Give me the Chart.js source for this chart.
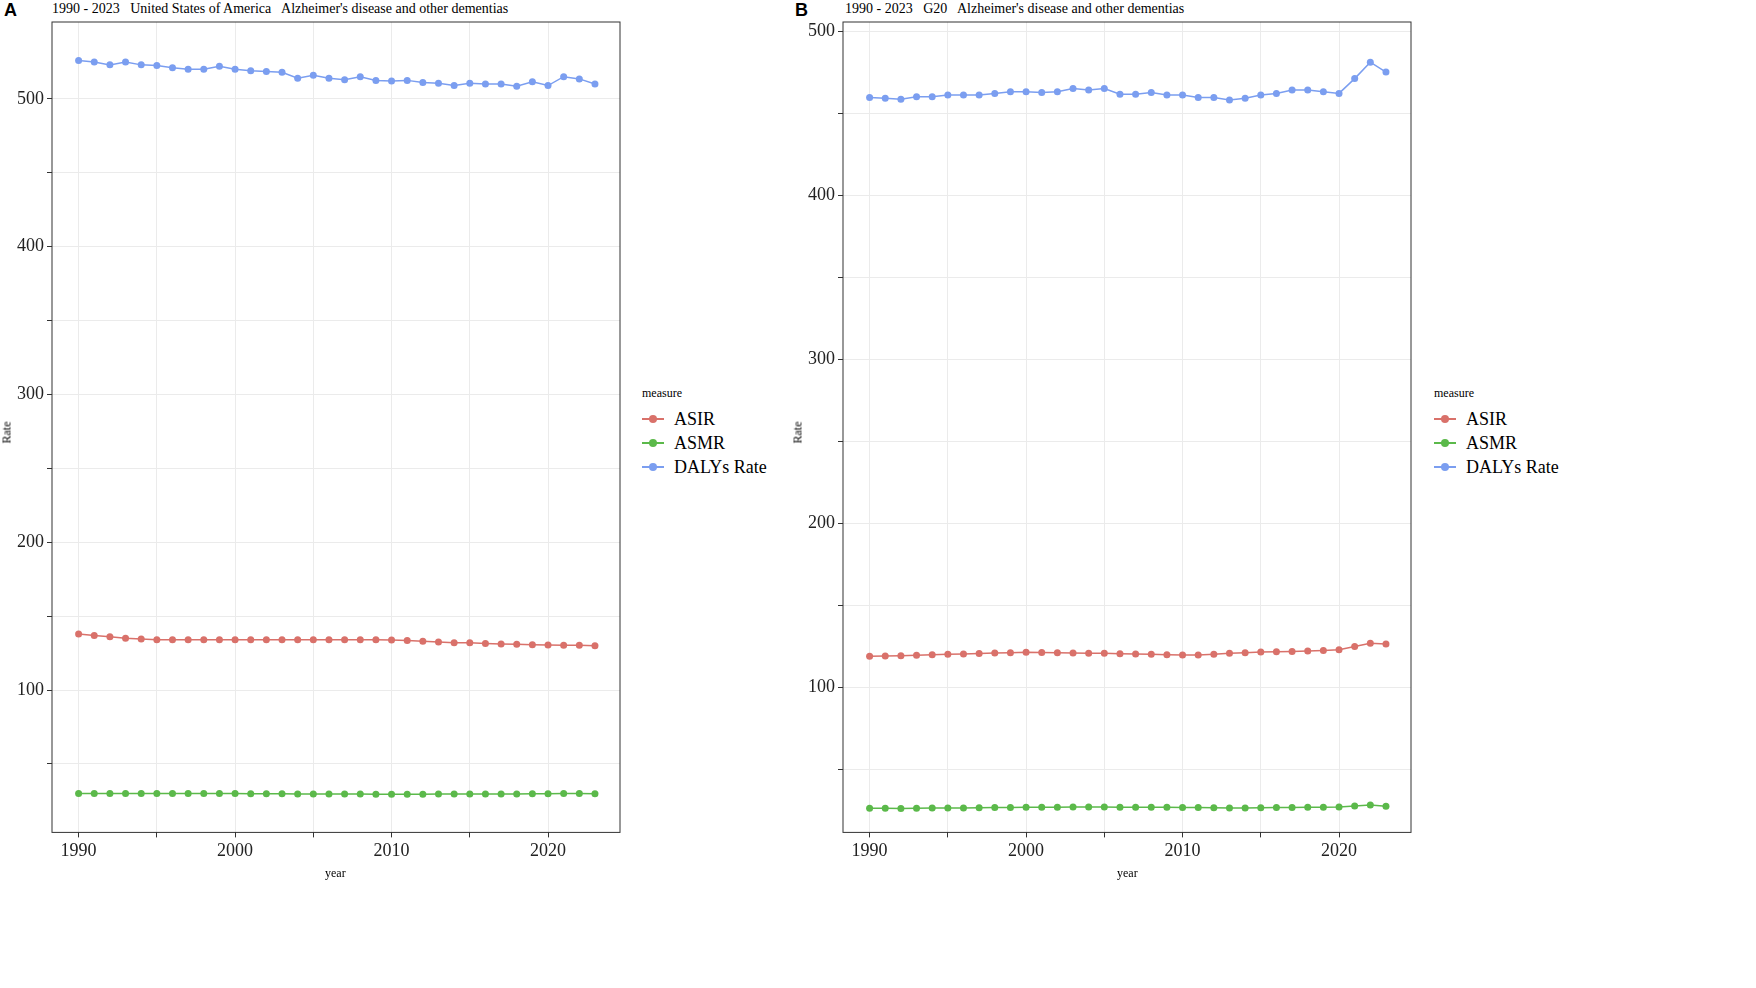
<!DOCTYPE html>
<html>
<head>
<meta charset="utf-8">
<script src="https://cdn.jsdelivr.net/npm/chart.js@4"></script>
<style>
body { margin: 0; background: #fff; font-family: "Liberation Serif", serif; }
.panel { position: absolute; top: 0; width: 640px; height: 885px; }
.tag { position: absolute; top: 0; font: bold 18px "Liberation Sans", sans-serif; }
.ttl { position: absolute; top: 1px; font-size: 14px; white-space: pre; }
.leg { position: absolute; font-size: 18px; }
.leg .h { font-size: 12px; margin-bottom: 6px; }
.leg div.r { height: 24px; display: flex; align-items: center; }
.leg .sw { position: relative; width: 22px; height: 2px; margin-right: 10px; }
.leg .sw i { position: absolute; left: 7px; top: -3px; width: 8px; height: 8px; border-radius: 50%; background: inherit; }
.ylab { position: absolute; font-size: 12px; transform: rotate(-90deg); }
.xlab { position: absolute; font-size: 12px; }
</style>
</head>
<body>
<div class="tag" style="left:4px">A</div>
<div class="ttl" style="left:52px">1990 - 2023   United States of America   Alzheimer's disease and other dementias</div>
<div class="panel" style="left:0"><canvas id="chartA"></canvas></div>
<div class="ylab" style="left:-4px;top:425px">Rate</div>
<div class="xlab" style="left:325px;top:866px">year</div>
<div class="leg" style="left:642px;top:386px" id="legA"></div>

<div class="tag" style="left:795px">B</div>
<div class="ttl" style="left:845px">1990 - 2023   G20   Alzheimer's disease and other dementias</div>
<div class="panel" style="left:791px"><canvas id="chartB"></canvas></div>
<div class="ylab" style="left:787px;top:425px">Rate</div>
<div class="xlab" style="left:1117px;top:866px">year</div>
<div class="leg" style="left:1434px;top:386px" id="legB"></div>

<script>
const years = [];
for (let y = 1990; y <= 2023; y++) years.push(y);

const colors = { ASIR: '#d9716a', ASMR: '#5bb94a', 'DALYs Rate': '#7b9ef0' };

const dataA = {
    'ASIR': [138, 137, 136, 135, 134.5, 134, 134, 134, 134, 134, 134, 134, 134, 134, 134, 134, 134, 134, 134, 134, 133.8, 133.5, 133, 132.5, 132, 132, 131.5, 131.2, 131, 130.7, 130.5, 130.4, 130.4, 130],
    'ASMR': [30, 30, 30, 30, 30, 30, 30, 30, 30, 30, 30, 29.8, 29.8, 29.8, 29.7, 29.7, 29.6, 29.6, 29.6, 29.5, 29.5, 29.5, 29.5, 29.6, 29.6, 29.6, 29.7, 29.7, 29.7, 29.8, 29.8, 30, 30, 29.8],
    'DALYs Rate': [526, 525, 523, 525, 523, 522.5, 521, 520, 520, 522, 520, 519, 518.5, 518, 514, 516, 514, 513, 515, 512.5, 512, 512.5, 511, 510.5, 509, 510.5, 510, 510, 508.5, 511.5, 509, 515, 513.5, 510]
};
const dataB = {
    'ASIR': [119, 119.2, 119.4, 119.7, 120, 120.2, 120.4, 120.7, 121, 121.2, 121.4, 121.3, 121.2, 121, 120.9, 120.8, 120.6, 120.4, 120.2, 120, 119.8, 119.8, 120.2, 120.8, 121.2, 121.6, 121.8, 122, 122.2, 122.5, 123, 125, 127, 126.5],
    'ASMR': [26.4, 26.4, 26.3, 26.4, 26.5, 26.6, 26.6, 26.7, 26.8, 26.9, 27, 27, 27.1, 27.2, 27.2, 27.2, 27, 27, 27.1, 27, 26.9, 26.8, 26.7, 26.6, 26.6, 26.7, 26.8, 26.9, 27, 27, 27.2, 27.8, 28.4, 27.6],
    'DALYs Rate': [459.5, 459, 458.5, 460, 460, 461, 461, 461, 462, 463, 463, 462.5, 463, 465, 464, 465, 461.5, 461.5, 462.5, 461, 461, 459.5, 459.5, 458, 459, 461, 462, 464, 464, 463, 462, 471, 481, 475]
};

const gridColor = '#ebebeb';

// major + minor grid positions, like ggplot
function fixedTicks(values) {
    return function (axis) {
        axis.ticks = values.map(v => ({ value: v }));
    };
}

const frame = {
    id: 'frame',
    afterDraw(chart) {
        const a = chart.chartArea, c = chart.ctx;
        c.save();
        c.strokeStyle = '#333';
        c.lineWidth = 1;
        c.strokeRect(a.left, a.top, a.right - a.left, a.bottom - a.top);
        c.restore();
    }
};

function makeChart(id, data, ymin, ymax) {
    const datasets = Object.keys(data).map(k => ({
        label: k,
        data: data[k].map((v, i) => ({ x: years[i], y: v })),
        borderColor: colors[k],
        backgroundColor: colors[k],
        borderWidth: 1.5,
        pointRadius: 3.5,
        pointBorderWidth: 0,
        tension: 0
    }));
    return new Chart(document.getElementById(id), {
        type: 'line',
        data: { datasets: datasets },
        options: {
            responsive: true,
            maintainAspectRatio: false,
            animation: false,
            layout: { padding: { top: 22, right: 20, bottom: 20, left: 0 } },
            plugins: { legend: { display: false }, tooltip: { enabled: false } },
            scales: {
                x: {
                    type: 'linear',
                    min: 1988.3,
                    max: 2024.6,
                    afterBuildTicks: fixedTicks([1990, 1995, 2000, 2005, 2010, 2015, 2020]),
                    ticks: {
                        autoSkip: false,
                        color: '#222',
                        font: { family: 'Liberation Serif', size: 18 },
                        callback: v => (v % 10 === 0 ? String(v) : '')
                    },
                    grid: { color: gridColor, tickLength: 5, tickColor: '#333' },
                    border: { display: false }
                },
                y: {
                    min: ymin,
                    max: ymax,
                    afterBuildTicks: fixedTicks([50, 100, 150, 200, 250, 300, 350, 400, 450, 500].filter(v => v > ymin && v < ymax)),
                    afterFit: s => { s.width = 52; },
                    ticks: {
                        autoSkip: false,
                        color: '#222',
                        font: { family: 'Liberation Serif', size: 18 },
                        callback: v => (v % 100 === 0 ? String(v) : '')
                    },
                    grid: { color: gridColor, tickLength: 5, tickColor: '#333' },
                    border: { display: false }
                }
            }
        },
        plugins: [frame]
    });
}

function makeLegend(id) {
    let html = '<div class="h">measure</div>';
    Object.keys(colors).forEach(k => {
        html += '<div class="r"><span class="sw" style="background:' + colors[k] + '"><i></i></span>' + k + '</div>';
    });
    document.getElementById(id).innerHTML = html;
}

makeChart('chartA', dataA, 3.7, 552);
makeChart('chartB', dataB, 11.7, 505.5);
makeLegend('legA');
makeLegend('legB');
</script>
</body>
</html>
